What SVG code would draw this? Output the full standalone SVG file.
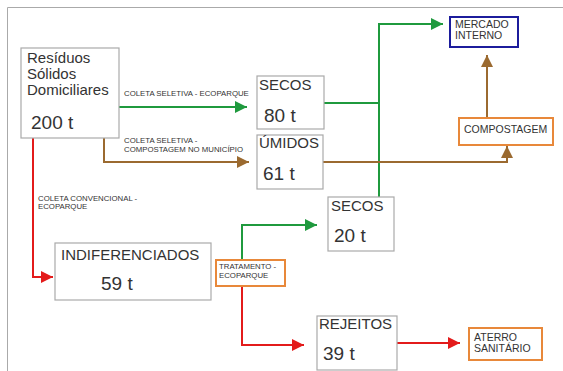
<svg xmlns="http://www.w3.org/2000/svg" width="563" height="371" viewBox="0 0 563 371">
<style>
text{font-family:"Liberation Sans",Arial,sans-serif;fill:#333}
.box{fill:#fff;stroke:#aaa;stroke-width:1.2}
.ob{fill:#fff;stroke:#e8883a;stroke-width:2}
.bb{fill:#fff;stroke:#1c1c9c;stroke-width:2}
.t15{font-size:15px}
.num{font-size:19px}
.sm{font-size:7.8px}
.md{font-size:10.5px}
.g{stroke:#1f9a3e;fill:none;stroke-width:2}
.br{stroke:#9b6a30;fill:none;stroke-width:2}
.r{stroke:#e31b1b;fill:none;stroke-width:2}
</style>
<defs>
<marker id="ag" viewBox="0 0 10 10" refX="10" refY="5" markerWidth="14" markerHeight="12" markerUnits="userSpaceOnUse" orient="auto"><path d="M0,0L10,5L0,10z" fill="#1f9a3e"/></marker>
<marker id="ab" viewBox="0 0 10 10" refX="10" refY="5" markerWidth="13" markerHeight="12" markerUnits="userSpaceOnUse" orient="auto"><path d="M0,0L10,5L0,10z" fill="#9b6a30"/></marker>
<marker id="ar" viewBox="0 0 10 10" refX="10" refY="5" markerWidth="13" markerHeight="12" markerUnits="userSpaceOnUse" orient="auto"><path d="M0,0L10,5L0,10z" fill="#e31b1b"/></marker>
</defs>
<rect width="563" height="371" fill="#fff"/>
<path d="M7.5,371V7.5H563" fill="none" stroke="#aaa" stroke-width="1"/>
<g id="connectors">
<path class="g" d="M119,107H247" marker-end="url(#ag)"/>
<path class="br" d="M104,138V162H249" marker-end="url(#ab)"/>
<path class="r" d="M33,138V277H53" marker-end="url(#ar)"/>
<path class="g" d="M324,103H379"/>
<path class="g" d="M379,197V24H443" marker-end="url(#ag)"/>
<path class="br" d="M323,162H507V146" marker-end="url(#ab)"/>
<path class="br" d="M487,118V55" marker-end="url(#ab)"/>
<path class="g" d="M242,260V225H317" marker-end="url(#ag)"/>
<path class="r" d="M242,286V345H304" marker-end="url(#ar)"/>
<path class="r" d="M397,343H460" marker-end="url(#ar)"/>
<text class="sm" x="124" y="96">COLETA SELETIVA - ECOPARQUE</text>
<text class="sm" x="124" y="143">COLETA SELETIVA -</text>
<text class="sm" x="124" y="152">COMPOSTAGEM NO MUNICÍPIO</text>
<text class="sm" x="38" y="201">COLETA CONVENCIONAL -</text>
<text class="sm" x="38" y="209">ECOPARQUE</text>
</g>
<g id="residuos">
<rect class="box" x="21" y="48" width="98" height="90"/>
<text class="t15" x="27" y="63">Resíduos</text>
<text class="t15" x="27" y="79">Sólidos</text>
<text class="t15" x="27" y="95">Domiciliares</text>
<text class="num" x="31" y="129">200 t</text>
</g>
<g id="secos80">
<rect class="box" x="257" y="76" width="67" height="53"/>
<text class="t15" x="259" y="90">SECOS</text>
<text class="num" x="264" y="122">80 t</text>
</g>
<g id="umidos">
<rect class="box" x="257" y="135" width="66" height="54"/>
<text class="t15" x="259" y="148">ÚMIDOS</text>
<text class="num" x="263" y="180">61 t</text>
</g>
<g id="mercado">
<rect class="bb" x="450" y="17" width="68" height="30"/>
<text class="md" x="455" y="28">MERCADO</text>
<text class="md" x="455" y="39">INTERNO</text>
</g>
<g id="compostagem">
<rect class="ob" x="459" y="118" width="94" height="27"/>
<text class="md" x="464" y="133">COMPOSTAGEM</text>
</g>
<g id="indiferenciados">
<rect class="box" x="55" y="243" width="156" height="57"/>
<text class="t15" x="61" y="260">INDIFERENCIADOS</text>
<text class="num" x="101" y="290">59 t</text>
</g>
<g id="tratamento">
<rect class="ob" x="216" y="260" width="69" height="26"/>
<text class="sm" x="219" y="269">TRATAMENTO -</text>
<text class="sm" x="219" y="278">ECOPARQUE</text>
</g>
<g id="secos20">
<rect class="box" x="328" y="197" width="66" height="54"/>
<text class="t15" x="331" y="211">SECOS</text>
<text class="num" x="334" y="242">20 t</text>
</g>
<g id="rejeitos">
<rect class="box" x="317" y="316" width="80" height="54"/>
<text class="t15" x="319" y="329">REJEITOS</text>
<text class="num" x="323" y="360">39 t</text>
</g>
<g id="aterro">
<rect class="ob" x="469" y="328" width="73" height="32"/>
<text class="md" x="474" y="341">ATERRO</text>
<text class="md" x="474" y="352">SANITÁRIO</text>
</g>
</svg>
